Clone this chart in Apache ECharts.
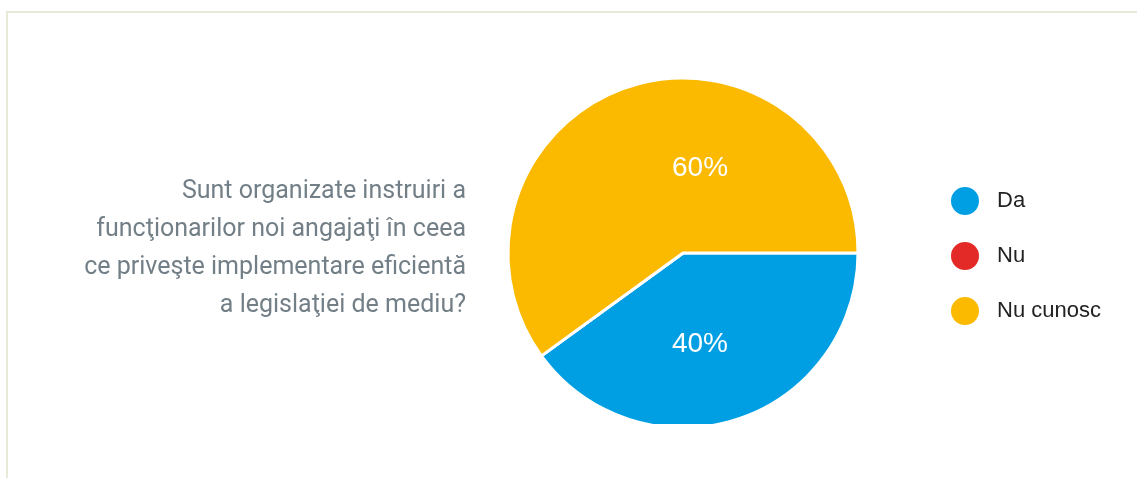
<!DOCTYPE html>
<html>
<head>
<meta charset="utf-8">
<script src="https://cdn.jsdelivr.net/npm/echarts@6/dist/echarts.min.js"></script>
<style>
  html, body { margin: 0; padding: 0; background: #fff; }
  #wrap { position: relative; width: 1137px; height: 478px; overflow: hidden; }
  #frame {
    position: absolute; left: 6px; top: 11px; width: 1200px; height: 500px;
    border-left: 2px solid #e8ead8; border-top: 2px solid #e8ead8;
    pointer-events: none;
  }
  #chart { position: absolute; left: 0; top: 0; width: 1137px; height: 424px; }
</style>
</head>
<body>
<div id="wrap">
  <div id="frame"></div>
  <div id="chart"></div>
</div>
<script>
// date din sondaj
const categories = ['Da', 'Nu', 'Nu cunosc']
const values = [40, 0, 60]
const colors = ['#009fe3', '#e42a26', '#fbb900']
const question = 'Sunt organizate instruiri a\nfuncţionarilor noi angajaţi în ceea\nce priveşte implementare eficientă\na legislaţiei de mediu?'

// mutare mica a etichetelor ca in original
const labelShift = [[-11, 5], [0, 0], [45, 1]]

const chart = echarts.init(document.getElementById('chart'))

chart.setOption({
  animation: false,
  title: {
    text: question,
    left: 461,
    top: 168,
    textAlign: 'right',
    textStyle: {
      fontFamily: 'Roboto',
      fontWeight: 400,
      fontSize: 25,
      lineHeight: 38,
      color: '#737f87'
    }
  },
  legend: {
    orient: 'vertical',
    left: 944,
    top: 180,
    itemWidth: 30,
    itemHeight: 30,
    itemGap: 23,
    icon: 'circle',
    data: categories,
    textStyle: {
      fontFamily: 'Liberation Sans',
      fontSize: 22,
      color: '#222',
      padding: [0, 0, 0, 12]
    }
  },
  series: [{
    type: 'pie',
    center: [683, 253],
    radius: 175,
    startAngle: 0,
    clockwise: true,
    itemStyle: { borderColor: '#fff', borderWidth: 3 },
    label: {
      show: true,
      position: 'inside',
      fontFamily: 'Liberation Sans',
      fontSize: 28,
      color: '#fff',
      formatter: (p) => p.value ? Math.round(p.percent) + '%' : ''
    },
    labelLine: { show: false },
    emphasis: { disabled: true },
    labelLayout: (p) => ({ dx: labelShift[p.dataIndex][0], dy: labelShift[p.dataIndex][1] }),
    data: categories.map((name, i) => ({
      name: name,
      value: values[i],
      itemStyle: { color: colors[i] }
    }))
  }]
})
</script>
</body>
</html>
